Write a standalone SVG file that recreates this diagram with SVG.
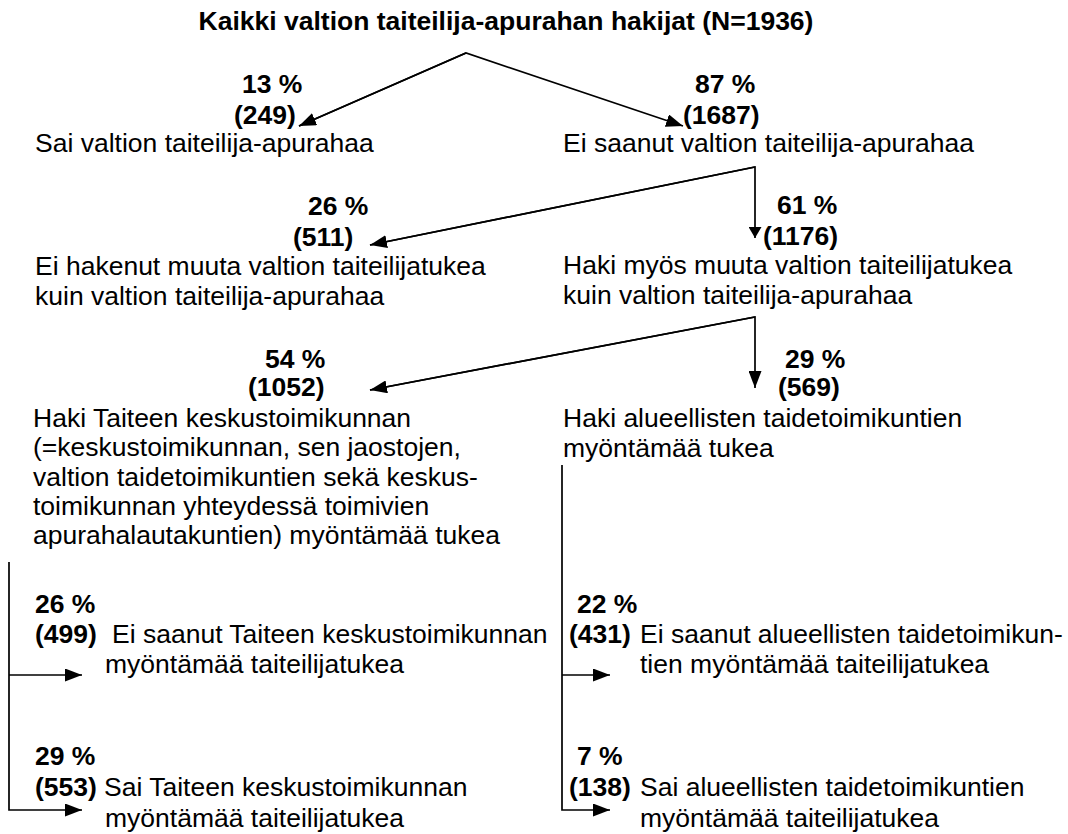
<svg xmlns="http://www.w3.org/2000/svg" width="1068" height="834" viewBox="0 0 1068 834">
<style>
text{font-family:"Liberation Sans",Arial,sans-serif;font-size:26.5px;fill:#000}
.b{font-weight:bold}
.c{fill:none;stroke:#000;stroke-width:1.7}
</style>
<defs>
<marker id="ah" markerUnits="userSpaceOnUse" markerWidth="17" markerHeight="13" viewBox="0 0 17 13" refX="17" refY="6.5" orient="auto"><path d="M0,0 L17,6.5 L0,13 z" fill="#000"/></marker>
<marker id="ahs" markerUnits="userSpaceOnUse" markerWidth="11" markerHeight="13" viewBox="0 0 11 13" refX="11" refY="6.5" orient="auto"><path d="M0,0 L11,6.5 L0,13 z" fill="#000"/></marker>
</defs>
<rect width="1068" height="834" fill="#fff"/>
<g id="connectors">
<path class="c" d="M299,126 L466,53 L683,126" marker-end="url(#ah)"/>
<path class="c" d="M466,53 L299,126" marker-end="url(#ah)"/>
<path class="c" d="M370,245 L755,167 L755,238" marker-end="url(#ahs)"/>
<path class="c" d="M755,167 L370,245" marker-end="url(#ah)"/>
<path class="c" d="M370,390 L755,317 L755,388" marker-end="url(#ah)"/>
<path class="c" d="M755,317 L370,390" marker-end="url(#ah)"/>
<path class="c" d="M9,562 L9,810 L82,810" marker-end="url(#ah)"/>
<path class="c" d="M9,675 L82,675" marker-end="url(#ah)"/>
<path class="c" d="M562,465 L562,810 L610,810" marker-end="url(#ah)"/>
<path class="c" d="M562,675 L610,675" marker-end="url(#ah)"/>
</g>
<g id="root"><text class="b" x="506" y="30" text-anchor="middle">Kaikki valtion taiteilija-apurahan hakijat (N=1936)</text></g>
<g id="n-sai">
<text class="b" x="242" y="93">13 %</text>
<text class="b" x="234" y="124">(249)</text>
<text x="35" y="152">Sai valtion taiteilija-apurahaa</text>
</g>
<g id="n-eisaanut">
<text class="b" x="695" y="93">87 %</text>
<text class="b" x="683" y="124">(1687)</text>
<text x="563" y="152">Ei saanut valtion taiteilija-apurahaa</text>
</g>
<g id="n-eihakenut">
<text class="b" x="308" y="215">26 %</text>
<text class="b" x="293" y="246">(511)</text>
<text x="35" y="275">Ei hakenut muuta valtion taiteilijatukea</text>
<text x="35" y="305">kuin valtion taiteilija-apurahaa</text>
</g>
<g id="n-hakimyos">
<text class="b" x="777" y="214">61 %</text>
<text class="b" x="763" y="245">(1176)</text>
<text x="563" y="274">Haki myös muuta valtion taiteilijatukea</text>
<text x="563" y="304">kuin valtion taiteilija-apurahaa</text>
</g>
<g id="n-taike">
<text class="b" x="265" y="368">54 %</text>
<text class="b" x="248" y="396">(1052)</text>
<text x="33" y="427">Haki Taiteen keskustoimikunnan</text>
<text x="33" y="456">(=keskustoimikunnan, sen jaostojen,</text>
<text x="33" y="486">valtion taidetoimikuntien sekä keskus-</text>
<text x="33" y="515">toimikunnan yhteydessä toimivien</text>
<text x="33" y="544">apurahalautakuntien) myöntämää tukea</text>
</g>
<g id="n-alue">
<text class="b" x="785" y="368">29 %</text>
<text class="b" x="778" y="396">(569)</text>
<text x="563" y="427">Haki alueellisten taidetoimikuntien</text>
<text x="563" y="457">myöntämää tukea</text>
</g>
<g id="n-taike-ei">
<text class="b" x="35" y="613">26 %</text>
<text class="b" x="35" y="643">(499)</text>
<text x="112" y="643">Ei saanut Taiteen keskustoimikunnan</text>
<text x="105" y="673">myöntämää taiteilijatukea</text>
</g>
<g id="n-taike-sai">
<text class="b" x="35" y="765">29 %</text>
<text class="b" x="35" y="796">(553)</text>
<text x="104" y="796">Sai Taiteen keskustoimikunnan</text>
<text x="105" y="827">myöntämää taiteilijatukea</text>
</g>
<g id="n-alue-ei">
<text class="b" x="577" y="613">22 %</text>
<text class="b" x="569" y="643">(431)</text>
<text x="640" y="643">Ei saanut alueellisten taidetoimikun-</text>
<text x="640" y="673">tien myöntämää taiteilijatukea</text>
</g>
<g id="n-alue-sai">
<text class="b" x="577" y="765">7 %</text>
<text class="b" x="569" y="796">(138)</text>
<text x="640" y="796">Sai alueellisten taidetoimikuntien</text>
<text x="640" y="827">myöntämää taiteilijatukea</text>
</g>
</svg>
